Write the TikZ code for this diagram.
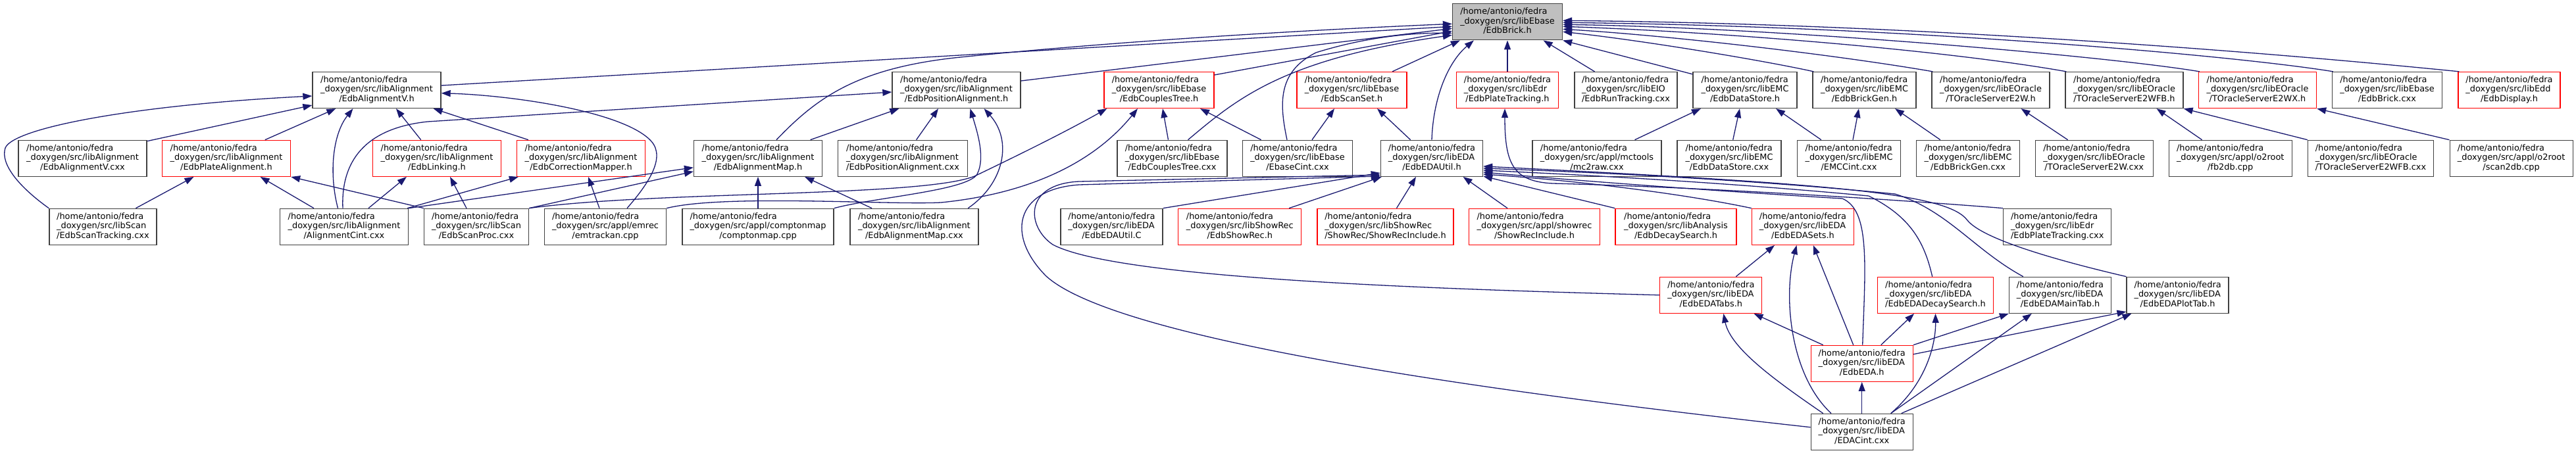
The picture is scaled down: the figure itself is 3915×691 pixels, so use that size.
\documentclass[tikz,border=0pt]{standalone}
\usepackage{fontspec}
\setmainfont{DejaVu Sans}
\usetikzlibrary{arrows.meta}
\definecolor{edgec}{HTML}{191970}
\definecolor{boxgray}{HTML}{BFBFBF}
\definecolor{bord}{HTML}{404040}
\newcommand{\dfont}{\fontsize{12.9}{14.5}\selectfont}
\newcommand{\dlab}[2]{\begin{tabular}{@{}l@{}}/home/antonio/fedra\\\_doxygen/src/#1\\\multicolumn{1}{@{}c@{}}{/#2}\end{tabular}}
\begin{document}
\begin{tikzpicture}[x=1pt,y=-1pt,
 nb/.style={draw=bord, fill=white, line width=1.3pt, rectangle, minimum height=55pt, inner sep=0pt, font=\dfont},
 nr/.style={nb, draw=red},
 ng/.style={nb, fill=boxgray},
 dep/.style={draw=edgec, line width=1.3pt, -{Triangle[length=14pt,width=10pt]}}]
\useasboundingbox (0,0) rectangle (3915,691);
% row 1
\node[ng, minimum width=167pt] (root) at (2291,33.3) {\dlab{libEbase}{EdbBrick.h}};
% row 2
\node[nb, minimum width=195pt] (aV) at (572.5,137) {\dlab{libAlignment}{EdbAlignmentV.h}};
\node[nb, minimum width=195pt] (pAh) at (1453.5,137) {\dlab{libAlignment}{EdbPositionAlignment.h}};
\node[nr, minimum width=167pt] (cTh) at (1761.5,137) {\dlab{libEbase}{EdbCouplesTree.h}};
\node[nr, minimum width=167pt] (sSh) at (2054.5,137) {\dlab{libEbase}{EdbScanSet.h}};
\node[nr, minimum width=155pt] (pTh) at (2291,137) {\dlab{libEdr}{EdbPlateTracking.h}};
\node[nb, minimum width=156pt] (rTc) at (2471,137) {\dlab{libEIO}{EdbRunTracking.cxx}};
\node[nb, minimum width=158pt] (dSh) at (2652,137) {\dlab{libEMC}{EdbDataStore.h}};
\node[nb, minimum width=157pt] (bGh) at (2833.5,137) {\dlab{libEMC}{EdbBrickGen.h}};
\node[nb, minimum width=179pt] (e2w) at (3025.5,137) {\dlab{libEOracle}{TOracleServerE2W.h}};
\node[nb, minimum width=179pt] (e2wfb) at (3228.5,137) {\dlab{libEOracle}{TOracleServerE2WFB.h}};
\node[nr, minimum width=179pt] (e2wx) at (3431,137) {\dlab{libEOracle}{TOracleServerE2WX.h}};
\node[nb, minimum width=167pt] (bcxx) at (3628,137) {\dlab{libEbase}{EdbBrick.cxx}};
\node[nr, minimum width=155pt] (disp) at (3813.5,137) {\dlab{libEdd}{EdbDisplay.h}};
% row 3
\node[nb, minimum width=195pt] (aVc) at (125.5,240.8) {\dlab{libAlignment}{EdbAlignmentV.cxx}};
\node[nr, minimum width=195pt] (pAl) at (344,240.8) {\dlab{libAlignment}{EdbPlateAlignment.h}};
\node[nr, minimum width=195pt] (lnk) at (664,240.8) {\dlab{libAlignment}{EdbLinking.h}};
\node[nr, minimum width=195pt] (cMap) at (883,240.8) {\dlab{libAlignment}{EdbCorrectionMapper.h}};
\node[nb, minimum width=195pt] (aMh) at (1152,240.8) {\dlab{libAlignment}{EdbAlignmentMap.h}};
\node[nb, minimum width=197pt] (pAc) at (1372,240.8) {\dlab{libAlignment}{EdbPositionAlignment.cxx}};
\node[nb, minimum width=167pt] (cTc) at (1781.5,240.8) {\dlab{libEbase}{EdbCouplesTree.cxx}};
\node[nb, minimum width=167pt] (eCint) at (1972,240.8) {\dlab{libEbase}{EbaseCint.cxx}};
\node[nb, minimum width=155pt] (uth) at (2176,240.8) {\dlab{libEDA}{EdbEDAUtil.h}};
\node[nb, minimum width=196pt] (mc2) at (2427,240.8) {\dlab{appl/mctools}{mc2raw.cxx}};
\node[nb, minimum width=158pt] (dSc) at (2628,240.8) {\dlab{libEMC}{EdbDataStore.cxx}};
\node[nb, minimum width=157pt] (emc) at (2810,240.8) {\dlab{libEMC}{EMCCint.cxx}};
\node[nb, minimum width=157pt] (bGc) at (2991,240.8) {\dlab{libEMC}{EdbBrickGen.cxx}};
\node[nb, minimum width=179pt] (e2wc) at (3182.7,240.8) {\dlab{libEOracle}{TOracleServerE2W.cxx}};
\node[nb, minimum width=187pt] (fb2) at (3389.7,240.8) {\dlab{appl/o2root}{fb2db.cpp}};
\node[nb, minimum width=191pt] (e2wfbc) at (3603,240.8) {\dlab{libEOracle}{TOracleServerE2WFB.cxx}};
\node[nb, minimum width=187pt] (s2db) at (3816.6,240.8) {\dlab{appl/o2root}{scan2db.cpp}};
% row 4
\node[nb, minimum width=163pt] (sTr) at (156.4,344.8) {\dlab{libScan}{EdbScanTracking.cxx}};
\node[nb, minimum width=195pt] (aCint) at (523,344.8) {\dlab{libAlignment}{AlignmentCint.cxx}};
\node[nb, minimum width=159pt] (sPr) at (724,344.8) {\dlab{libScan}{EdbScanProc.cxx}};
\node[nb, minimum width=185pt] (emtr) at (920,344.8) {\dlab{appl/emrec}{emtrackan.cpp}};
\node[nb, minimum width=230pt] (cmap) at (1152,344.8) {\dlab{appl/comptonmap}{comptonmap.cpp}};
\node[nb, minimum width=195pt] (aMc) at (1389.4,344.8) {\dlab{libAlignment}{EdbAlignmentMap.cxx}};
\node[nb, minimum width=155pt] (uC) at (1689.5,344.8) {\dlab{libEDA}{EdbEDAUtil.C}};
\node[nr, minimum width=187pt] (shR) at (1884.3,344.8) {\dlab{libShowRec}{EdbShowRec.h}};
\node[nr, minimum width=207pt] (srI1) at (2105.5,344.8) {\dlab{libShowRec}{ShowRec/ShowRecInclude.h}};
\node[nr, minimum width=199pt] (srI2) at (2332,344.8) {\dlab{appl/showrec}{ShowRecInclude.h}};
\node[nr, minimum width=184pt] (dSr) at (2547,344.8) {\dlab{libAnalysis}{EdbDecaySearch.h}};
\node[nr, minimum width=155pt] (sets) at (2740,344.8) {\dlab{libEDA}{EdbEDASets.h}};
\node[nb, minimum width=164pt] (pTc) at (3126.7,344.8) {\dlab{libEdr}{EdbPlateTracking.cxx}};
% row 5
\node[nr, minimum width=155pt] (tabs) at (2600.3,448.8) {\dlab{libEDA}{EdbEDATabs.h}};
\node[nr, minimum width=175.5pt] (eDS) at (2941.5,448.8) {\dlab{libEDA}{EdbEDADecaySearch.h}};
\node[nb, minimum width=155pt] (mTab) at (3131,448.8) {\dlab{libEDA}{EdbEDAMainTab.h}};
\node[nb, minimum width=155pt] (pTab) at (3309.6,448.8) {\dlab{libEDA}{EdbEDAPlotTab.h}};
% rows 6, 7
\node[nr, minimum width=155pt] (eda) at (2829.7,552.8) {\dlab{libEDA}{EdbEDA.h}};
\node[nb, minimum width=155pt] (cint) at (2829.7,656.8) {\dlab{libEDA}{EDACint.cxx}};

% ---- edges into EdbBrick.h
\draw[dep] ([yshift=7pt]aV.east) -- ([yshift=-7pt]root.west);
\draw[dep] ([yshift=14pt]pAh.east) -- ([yshift=-10pt]root.west);
\draw[dep] ([yshift=23pt]cTh.east) -- ([yshift=-14pt]root.west);
\draw[dep] ([xshift=28pt]aMh.north) .. controls (1240,150) and (1300,105) .. (1450,88) .. controls (1700,62) and (2000,45) .. ([yshift=-3pt]root.west);
\draw[dep] ([xshift=-16pt]eCint.north) .. controls (1945,160) and (1940,110) .. (2000,80) .. controls (2080,55) and (2150,50) .. ([yshift=-17pt]root.west);
\draw[dep] ([xshift=24pt]cTc.north) .. controls (1880,150) and (1950,90) .. ([yshift=-20pt]root.west);
\draw[dep] ([xshift=61.5pt]sSh.north) -- ([xshift=12pt]root.south west);
\draw[dep] (uth.north) .. controls (2178,150) and (2200,95) .. ([xshift=33pt]root.south west);
\draw[dep] (pTh) -- (root);
\draw[dep] ([xshift=-47.5pt]rTc.north) -- ([xshift=54.6pt]root.south);
\draw[dep] ([yshift=-4pt]dSh.north west) -- (root.south east);
\draw[dep] ([xshift=2pt]bGh.north west) .. controls (2680,92) and (2500,62) .. ([yshift=-15pt]root.east);
\draw[dep] ([xshift=2pt]e2w.north west) .. controls (2800,85) and (2550,55) .. ([yshift=-11pt]root.east);
\draw[dep] ([xshift=2pt]e2wfb.north west) .. controls (2950,75) and (2600,48) .. ([yshift=-7pt]root.east);
\draw[dep] ([xshift=2pt]e2wx.north west) .. controls (3200,85) and (2700,42) .. ([yshift=-4pt]root.east);
\draw[dep] ([xshift=2pt]bcxx.north west) .. controls (3400,85) and (2900,40) .. ([yshift=-1pt]root.east);
\draw[dep] ([xshift=2pt]disp.north west) .. controls (3300,65) and (2800,35) .. ([yshift=2pt]root.east);

% ---- EdbAlignmentV.h
\draw[dep] (sTr.north west) .. controls (30,285) and (0,250) .. (8,225) .. controls (20,195) and (200,160) .. ([yshift=-9pt]aV.west);
\draw[dep] ([yshift=-2pt]aVc.north east) -- ([yshift=-23pt]aV.west);
\draw[dep] ([xshift=58.8pt]pAl.north) -- ([xshift=36pt]aV.south west);
\draw[dep] ([xshift=-9.5pt]aCint.north) .. controls (500,265) and (505,205) .. ([xshift=-36pt]aV.south);
\draw[dep] ([xshift=-24.3pt]lnk.north) -- ([xshift=29.4pt]aV.south);
\draw[dep] ([xshift=18pt]cMap.north west) -- ([xshift=-12pt]aV.south east);
\draw[dep] ([xshift=33pt]emtr.north) .. controls (985,280) and (1012,240) .. (990,215) .. controls (950,170) and (780,145) .. ([yshift=-4.7pt]aV.east);

% ---- EdbPositionAlignment.h
\draw[dep] ([xshift=-2pt]aCint.north) .. controls (518,245) and (555,195) .. (650,185) -- ([yshift=-3pt]pAh.west);
\draw[dep] ([xshift=-18.6pt]aMh.north east) -- ([xshift=11pt]pAh.south west);
\draw[dep] ([xshift=20.6pt]pAc.north) -- ([xshift=-27.5pt]pAh.south);
\draw[dep] ([xshift=-16.4pt]aMc.north east) .. controls (1525,280) and (1540,215) .. ([xshift=42pt]pAh.south);
\draw[dep] (cmap.north east) .. controls (1330,300) and (1470,290) .. (1485,265) .. controls (1498,240) and (1485,200) .. ([xshift=21pt]pAh.south);

% ---- EdbCouplesTree.h
\draw[dep] ([xshift=-6pt]cTc.north) -- ([xshift=5.5pt]cTh.south);
\draw[dep] ([xshift=-55.4pt]eCint.north) -- ([xshift=62.5pt]cTh.south);
\draw[dep] (sPr.north east) .. controls (1000,290) and (1400,300) .. (1481,268) .. controls (1560,230) and (1620,200) .. ([xshift=5pt]cTh.south west);
\draw[dep] (emtr.north east) .. controls (1100,295) and (1350,312) .. (1430,308) .. controls (1560,295) and (1660,250) .. ([xshift=-32.5pt]cTh.south);

% ---- EdbPlateAlignment.h, EdbLinking.h, EdbCorrectionMapper.h, EdbAlignmentMap.h
\draw[dep] ([xshift=50pt]sTr.north) -- ([xshift=-49.5pt]pAl.south);
\draw[dep] ([xshift=-46pt]aCint.north) -- ([xshift=51.6pt]pAl.south);
\draw[dep] (sPr.north west) -- (pAl.south east);
\draw[dep] ([xshift=37pt]aCint.north) -- ([xshift=52pt]lnk.south west);
\draw[dep] ([xshift=-15pt]sPr.north) -- ([xshift=20pt]lnk.south);
\draw[dep] ([xshift=-2pt]aCint.north east) -- ([xshift=3pt]cMap.south west);
\draw[dep] ([xshift=-9pt]emtr.north) -- ([xshift=11pt]cMap.south);
\draw[dep] (aCint.north east) -- ([yshift=-14pt]aMh.west);
\draw[dep] (sPr.north east) -- ([yshift=-20pt]aMh.west);
\draw[dep] (cmap) -- (aMh);
\draw[dep] ([xshift=-64.4pt]aMc.north) -- ([xshift=-27pt]aMh.south east);

% ---- EdbScanSet.h, EdbPlateTracking.h
\draw[dep] ([xshift=22pt]eCint.north) -- ([xshift=-26.5pt]sSh.south);
\draw[dep] ([xshift=-32.4pt]uth.north) -- ([xshift=38.5pt]sSh.south);
\draw[dep] (pTc.north west) .. controls (2900,305) and (2600,285) .. (2360,279) .. controls (2300,276) and (2287,250) .. ([xshift=-4pt]pTh.south);

% ---- libEMC, libEOracle
\draw[dep] ([xshift=57.5pt]mc2.north) -- ([xshift=12.5pt]dSh.south west);
\draw[dep] ([xshift=5.7pt]dSc.north) -- ([xshift=-8pt]dSh.south);
\draw[dep] ([xshift=37pt]emc.north west) -- ([xshift=47pt]dSh.south);
\draw[dep] ([xshift=6pt]emc.north) -- ([xshift=-8.5pt]bGh.south);
\draw[dep] ([xshift=37pt]bGc.north west) -- ([xshift=46.5pt]bGh.south);
\draw[dep] ([xshift=50pt]e2wc.north west) -- ([xshift=46pt]e2w.south);
\draw[dep] ([xshift=51pt]fb2.north west) -- ([xshift=49pt]e2wfb.south);
\draw[dep] (e2wfbc.north west) -- (e2wfb.south east);
\draw[dep] (s2db.north west) -- (e2wx.south east);

% ---- EdbEDAUtil.h
\draw[dep] (uC.north east) -- ([yshift=6pt]uth.south west);
\draw[dep] ([xshift=-19.4pt]shR.north east) -- ([xshift=2pt]uth.south west);
\draw[dep] ([xshift=17pt]srI1.north) -- ([xshift=-24pt]uth.south);
\draw[dep] ([xshift=-41pt]srI2.north) -- ([xshift=47.6pt]uth.south);
\draw[dep] (dSr.north west) -- ([yshift=1pt]uth.south east);
\draw[dep] (sets.north west) .. controls (2560,295) and (2400,275) .. ([yshift=4pt]uth.south east);
\draw[dep] ([xshift=1pt]eda.north) .. controls (2835,400) and (2842,320) .. (2800,302) .. controls (2600,290) and (2400,275) .. ([yshift=7pt]uth.south east);
\draw[dep] ([xshift=-4.8pt]eDS.north) .. controls (2925,370) and (2905,330) .. (2840,298) .. controls (2650,280) and (2450,268) .. ([yshift=10pt]uth.south east);
\draw[dep] ([xshift=22pt]mTab.north west) .. controls (3000,380) and (2960,320) .. (2880,295) .. controls (2680,275) and (2450,263) .. ([yshift=13pt]uth.south east);
\draw[dep] (pTab.north west) .. controls (3100,390) and (3010,360) .. (2990,335) .. controls (2960,295) and (2800,280) .. ([yshift=16pt]uth.south east);
\draw[dep] (tabs.west) .. controls (2200,440) and (1700,425) .. (1600,372) .. controls (1560,345) and (1555,280) .. (1640,276) -- ([yshift=3pt]uth.south west);
\draw[dep] ([yshift=7pt]cint.west) .. controls (2300,600) and (1700,520) .. (1590,420) .. controls (1530,360) and (1540,288) .. (1640,281) -- ([yshift=1pt]uth.south west);

% ---- libEDA internals
\draw[dep] ([xshift=38pt]tabs.north) -- ([xshift=-43pt]sets.south);
\draw[dep] ([xshift=-13pt]eda.north) -- ([xshift=15.7pt]sets.south);
\draw[dep] ([xshift=-46.7pt]cint.north) .. controls (2720,570) and (2710,450) .. ([xshift=-9.5pt]sets.south);
\draw[dep] ([xshift=-59pt]eda.north) -- ([xshift=-13pt]tabs.south east);
\draw[dep] ([xshift=-59pt]cint.north) .. controls (2700,580) and (2630,530) .. ([xshift=19pt]tabs.south);
\draw[dep] ([xshift=29pt]eda.north) -- ([xshift=-32.5pt]eDS.south);
\draw[dep] ([xshift=44pt]cint.north) .. controls (2930,580) and (2942,520) .. (eDS.south);
\draw[dep] (eda.north east) -- (mTab.south west);
\draw[dep] ([xshift=44pt]cint.north) -- ([xshift=35pt]mTab.south west);
\draw[dep] ([yshift=14pt]eda.east) -- ([yshift=3pt]pTab.south west);
\draw[dep] ([xshift=60pt]cint.north) -- ([xshift=8pt]pTab.south west);
\draw[dep] (cint) -- (eda);
\end{tikzpicture}
\end{document}
